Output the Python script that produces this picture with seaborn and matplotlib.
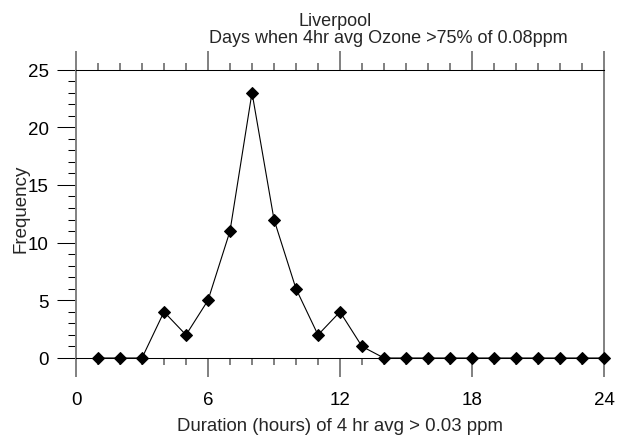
import matplotlib
matplotlib.use('Agg')
import matplotlib.pyplot as plt
import seaborn as sns
from matplotlib.ticker import MultipleLocator

# --- data ---
hours = list(range(1, 25))
frequency = [0, 0, 0, 4, 2, 5, 11, 23, 12, 6, 2, 4, 1, 0, 0, 0, 0, 0, 0, 0, 0, 0, 0, 0]
x_ticks = [0, 6, 12, 18, 24]
y_ticks = [0, 5, 10, 15, 20, 25]

TITLE_1 = 'Liverpool'
TITLE_2 = 'Days when 4hr avg Ozone >75% of 0.08ppm'
XLABEL = 'Duration (hours) of 4 hr avg > 0.03 ppm'
YLABEL = 'Frequency'

# vertical lines look grey/2px in the original, horizontal ones black/1px
VCOL, VLW = '#808080', 1.4
HCOL, HLW = 'black', 0.75


def main():
    sns.set_style('white')
    plt.rcParams['font.family'] = ['Liberation Sans', 'DejaVu Sans']

    fig = plt.figure(figsize=(6.26, 4.39), dpi=100)
    ax = fig.add_axes([76 / 626, 80 / 439, 528 / 626, 288.5 / 439])

    sns.lineplot(x=hours, y=frequency, ax=ax, color='black', linewidth=0.8,
                 marker='D', markersize=6, markeredgecolor='black',
                 clip_on=False, zorder=5)

    ax.set_xlim(0, 24)
    ax.set_ylim(0, 25)
    ax.set_xticks(x_ticks)
    ax.set_yticks(y_ticks)
    ax.xaxis.set_minor_locator(MultipleLocator(1))
    ax.yaxis.set_minor_locator(MultipleLocator(1))

    for side in ['left', 'right']:
        ax.spines[side].set_visible(True)
        ax.spines[side].set_color(VCOL)
        ax.spines[side].set_linewidth(VLW)
    for side in ['top', 'bottom']:
        ax.spines[side].set_visible(True)
        ax.spines[side].set_color(HCOL)
        ax.spines[side].set_linewidth(HLW)

    # x ticks (vertical marks)
    ax.tick_params(axis='x', which='major', direction='out', length=13.5,
                   width=VLW, color=VCOL, labelsize=13.5, labelcolor='black', pad=10)
    ax.tick_params(axis='x', which='minor', direction='out', length=5.2,
                   width=VLW, color=VCOL)
    ax.tick_params(axis='x', which='both', bottom=True, top=True,
                   labelbottom=True, labeltop=False)
    # y ticks (horizontal marks)
    ax.tick_params(axis='y', which='major', direction='out', length=13.5,
                   width=HLW, color=HCOL, labelsize=13.5, labelcolor='black', pad=6)
    ax.tick_params(axis='y', which='minor', direction='out', length=5.8,
                   width=HLW, color=HCOL)
    ax.tick_params(axis='y', which='both', left=True, right=False,
                   labelleft=True, labelright=False)

    ax.set_xlabel(XLABEL, fontsize=13.4, labelpad=7)
    ax.set_ylabel(YLABEL, fontsize=13.5)
    ax.yaxis.set_label_coords(-0.088, 0.52)
    ax.grid(False)

    fig.text(335 / 626, 1 - 21 / 439, TITLE_1, ha='center', va='center', fontsize=13)
    fig.text(388 / 626, 1 - 38.5 / 439, TITLE_2, ha='center', va='center', fontsize=13)

    fig.savefig('out.png', dpi=100)


if __name__ == '__main__':
    main()
